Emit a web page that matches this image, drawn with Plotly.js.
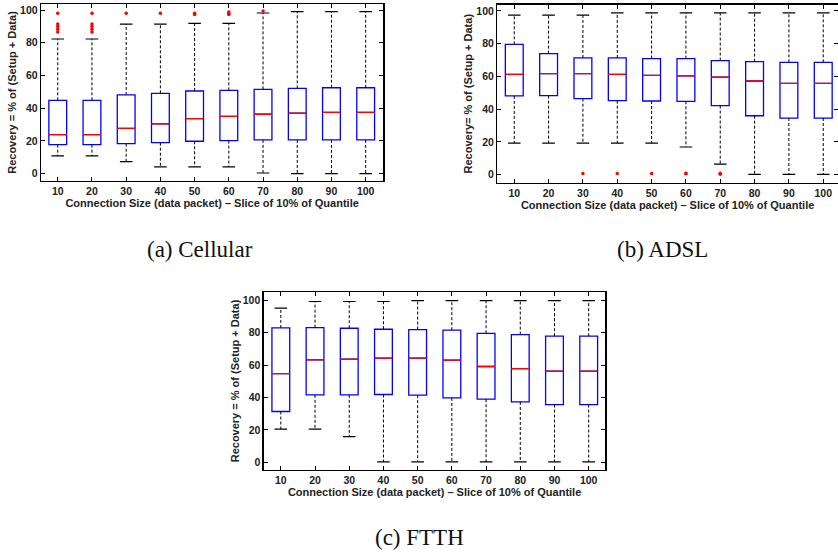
<!DOCTYPE html>
<html>
<head>
<meta charset="utf-8">
<script src="https://cdn.plot.ly/plotly-3.0.1.min.js"></script>
<style>html,body{margin:0;padding:0;background:#fff;}#chart{width:838px;height:554px;}</style>
</head>
<body>
<div id="chart"></div>
<script>
// ---------- data ----------
const categories = [10, 20, 30, 40, 50, 60, 70, 80, 90, 100];
const tickLabels = ["10", "20", "30", "40", "50", "60", "70", "80", "90", "100"];

// (a) Cellular
const cellQ1  = [17.7, 17.7, 18.3, 18.9, 19.8, 20.2, 20.6, 20.6, 20.6, 20.6];
const cellMed = [23.8, 23.8, 27.7, 30.5, 33.6, 35.0, 36.3, 36.9, 37.5, 37.5];
const cellQ3  = [44.8, 44.8, 48.1, 49.1, 50.5, 50.9, 51.5, 52.1, 52.5, 52.5];
const cellLo  = [10.8, 10.8, 7.3, 4.1, 4.1, 4.1, 0.4, 0.0, 0.0, 0.0];
const cellHi  = [82.3, 82.3, 91.4, 91.4, 91.9, 91.9, 98.2, 99.0, 99.0, 99.0];
const cellOutX = [10, 10, 10, 10, 10, 20, 20, 20, 20, 20, 30, 40, 50, 50, 60, 60, 60, 70];
const cellOutY = [98.0, 91.4, 90.0, 88.2, 86.6, 98.0, 91.4, 90.0, 88.2, 86.6, 98.0, 98.0, 98.0, 97.2, 98.8, 97.9, 97.2, 99.4];

// (b) ADSL
const adslQ1  = [48.1, 48.3, 46.4, 45.2, 45.0, 44.8, 42.2, 36.0, 34.6, 34.6];
const adslMed = [61.3, 61.7, 61.7, 61.3, 60.7, 60.3, 59.5, 57.2, 55.8, 55.8];
const adslQ3  = [79.6, 73.9, 71.3, 71.3, 70.9, 70.9, 69.7, 69.0, 68.6, 68.6];
const adslLo  = [19.3, 19.3, 19.3, 19.3, 19.3, 16.9, 6.5, 0.2, 0.2, 0.2];
const adslHi  = [97.4, 97.4, 97.4, 98.8, 98.8, 98.8, 98.8, 98.8, 98.8, 98.8];
const adslOutX = [30, 40, 50, 60, 60, 70, 70];
const adslOutY = [0.8, 0.8, 0.8, 0.9, 0.5, 0.9, 0.3];

// (c) FTTH
const ftthQ1  = [31.3, 41.6, 41.6, 41.8, 41.4, 39.7, 38.9, 37.2, 35.6, 35.6];
const ftthMed = [54.7, 63.2, 63.6, 64.2, 64.2, 63.0, 59.1, 57.8, 56.2, 56.2];
const ftthQ3  = [82.9, 83.1, 82.7, 82.1, 81.9, 81.5, 79.6, 78.8, 77.8, 77.8];
const ftthLo  = [20.4, 20.4, 15.8, 0.2, 0.2, 0.2, 0.2, 0.2, 0.2, 0.2];
const ftthHi  = [95.1, 99.2, 99.2, 99.2, 99.8, 99.8, 99.8, 99.8, 99.8, 99.8];
const ftthOutX = [];
const ftthOutY = [];

// ---------- styling ----------
const BOXW = 5.2;           // box width in category units
const BLUE = "#0000ff", RED = "#ff0000";
const tickFont = {family: "Liberation Sans, Arial, sans-serif", size: 10.5, color: "#222", weight: "bold"};
const titleFont = {family: "Liberation Sans, Arial, sans-serif", size: 11, color: "#222", weight: "bold"};

function panelTraces(ax, q1, med, q3, lo, hi, outX, outY) {
  const xa = "x" + ax, ya = "y" + ax;
  const wx = [], wy = [], mx = [], my = [], cx = [], cy = [];
  categories.forEach((c, i) => {
    wx.push(c, c, null, c, c, null);
    wy.push(q3[i], hi[i], null, q1[i], lo[i], null);
    mx.push(c - BOXW / 2, c + BOXW / 2, null);
    my.push(med[i], med[i], null);
    cx.push(c, c);
    cy.push(hi[i], lo[i]);
  });
  return [
    {type: "scatter", mode: "lines", x: wx, y: wy, xaxis: xa, yaxis: ya,
     line: {color: "#000", width: 1, dash: "3px,2px"}, hoverinfo: "skip", showlegend: false},
    {type: "scatter", mode: "markers", x: cx, y: cy, xaxis: xa, yaxis: ya,
     marker: {symbol: "line-ew", size: 9, line: {color: "#000", width: 1.2}}, hoverinfo: "skip", showlegend: false},
    {type: "box", x: categories, q1: q1, median: med, q3: q3, lowerfence: q1, upperfence: q3,
     xaxis: xa, yaxis: ya, width: BOXW, whiskerwidth: 0, boxpoints: false,
     line: {color: BLUE, width: 1.3}, fillcolor: "#ffffff", showlegend: false},
    {type: "scatter", mode: "lines", x: mx, y: my, xaxis: xa, yaxis: ya,
     line: {color: RED, width: 1.3}, hoverinfo: "skip", showlegend: false},
    {type: "scatter", mode: "markers", x: outX, y: outY, xaxis: xa, yaxis: ya,
     marker: {symbol: "circle", size: 3.5, color: RED}, showlegend: false}
  ];
}

const data = [].concat(
  panelTraces("", cellQ1, cellMed, cellQ3, cellLo, cellHi, cellOutX, cellOutY),
  panelTraces("2", adslQ1, adslMed, adslQ3, adslLo, adslHi, adslOutX, adslOutY),
  panelTraces("3", ftthQ1, ftthMed, ftthQ3, ftthLo, ftthHi, ftthOutX, ftthOutY)
);

const xTitle = "Connection Size (data packet) \u2013 Slice of 10% of Quantile";
function xAxis(domain, range) {
  return {domain: domain, range: range, tickmode: "array", tickvals: categories, ticktext: tickLabels,
    ticks: "inside", ticklen: 4, tickcolor: "#000", showline: true, linecolor: "#000", linewidth: 1.3,
    mirror: "ticks", showgrid: false, zeroline: false, tickfont: tickFont,
    title: {text: xTitle, font: titleFont, standoff: 3}};
}
function yAxis(domain, range, anchor, title) {
  return {domain: domain, range: range, anchor: anchor, tickmode: "array", tickvals: [0, 20, 40, 60, 80, 100],
    ticks: "inside", ticklen: 4, tickcolor: "#000", showline: true, linecolor: "#000", linewidth: 1.3,
    mirror: "ticks", showgrid: false, zeroline: false, tickfont: tickFont,
    title: {text: title, font: titleFont, standoff: 1}};
}

const capFont = {family: "Liberation Serif, Times New Roman, serif", size: 23, color: "#111"};
const layout = {
  width: 838, height: 554,
  margin: {l: 0, r: 0, t: 0, b: 0},
  paper_bgcolor: "#fff", plot_bgcolor: "#fff",
  showlegend: false,
  xaxis:  Object.assign(xAxis([0.0489, 0.4574], [5.1, 105.15]), {anchor: "y"}),
  yaxis:  yAxis([0.6733, 0.9928], [-4.5, 103.7], "x", "Recovery = % of (Setup + Data)"),
  xaxis2: Object.assign(xAxis([0.5934, 1.0], [5.05, 104.3]), {anchor: "y2"}),
  yaxis2: yAxis([0.6702, 0.9915], [-4.9, 103.8], "x2", "Recovery= % of (Setup + Data)"),
  xaxis3: Object.assign(xAxis([0.3147, 0.7225], [5.0, 104.9]), {anchor: "y3"}),
  yaxis3: yAxis([0.1522, 0.4724], [-4.6, 104.9], "x3", "Recovery = % of (Setup + Data)"),
  annotations: [
    {text: "(a) Cellular", x: 200 / 838, y: 1 - 250 / 554, xref: "paper", yref: "paper",
     xanchor: "center", yanchor: "middle", showarrow: false, font: capFont},
    {text: "(b) ADSL", x: 662 / 838, y: 1 - 250 / 554, xref: "paper", yref: "paper",
     xanchor: "center", yanchor: "middle", showarrow: false, font: capFont},
    {text: "(c) FTTH", x: 419 / 838, y: 1 - 537 / 554, xref: "paper", yref: "paper",
     xanchor: "center", yanchor: "middle", showarrow: false, font: capFont}
  ]
};

Plotly.newPlot("chart", data, layout, {displayModeBar: false, staticPlot: true});
</script>
</body>
</html>
